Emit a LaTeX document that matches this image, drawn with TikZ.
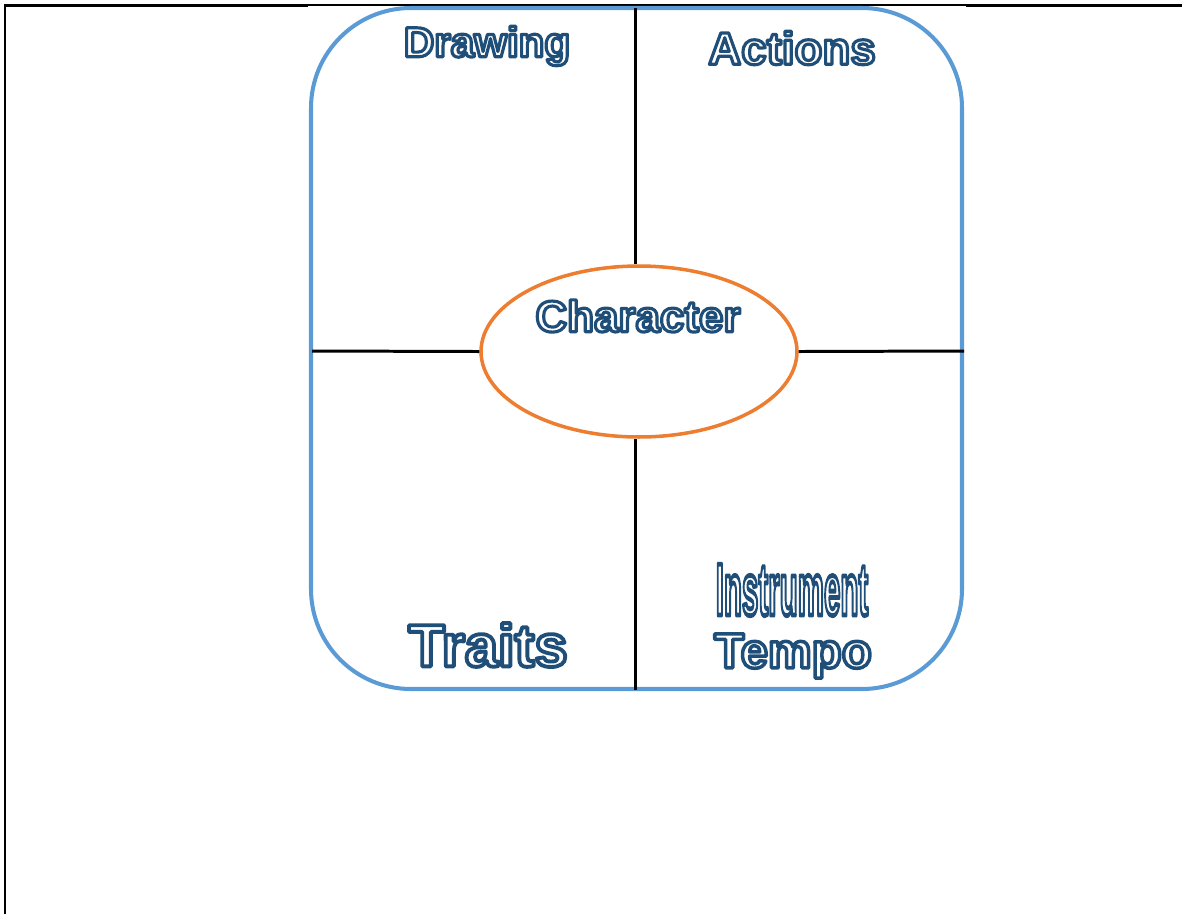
\documentclass[tikz,border=0pt]{standalone}
\usepackage{fontspec}
\setmainfont{Liberation Sans}
\usetikzlibrary{shapes.geometric}
\definecolor{boxblue}{HTML}{5B9BD5}
\definecolor{ovalorange}{HTML}{ED7D31}
\definecolor{wordblue}{HTML}{1F4E79}
% white letters with a dark blue rim (pdf text render mode 2)
\newcommand\rimmed[2][1.8]{\special{pdf:literal 0.122 0.306 0.475 RG #1 w 1 j 2 Tr}#2\special{pdf:literal 0 Tr}}

\begin{document}
\begin{tikzpicture}[x=0.02cm, y=-0.02cm,
       word/.style = {text=white, inner sep=0pt,
                      font=\bfseries\fontsize{#1}{#1}\selectfont},
    divider/.style = {draw=black, line width=1.7pt},
       oval/.style = {ellipse, draw=ovalorange, line width=2pt,
                      minimum width=6.32cm, minimum height=3.42cm}
                        ]
    \useasboundingbox (0,0) rectangle (1182,914);

    % Page frame (left and top only)
    \draw[line width=1.7pt] (5,914) -- (5,5) -- (308,5);
    \draw[line width=0.6pt] (308,5) -- (966,5);
    \draw[line width=1.7pt] (966,5) -- (1182,5);

    % The rounded box
    \draw[boxblue, line width=2.3pt, rounded corners=2cm] (311,8) rectangle (962,689);

    % Ends of the dividers on the box
    \coordinate (n) at (635,8);
    \coordinate (s) at (635,690);
    \coordinate (w) at (312,351);
    \coordinate (e) at (964,351);

    % Centre oval
    \node (char) at (639,351.5) [oval] {};

    \path[divider] (n) -- (n |- char.north);
    \path[divider] (s) -- (s |- char.south);
    \path[divider] (w) -- (char.west);
    \path[divider] (e) -- (char.east);

    % Labels
    \node (drawing) at (487,46) [word=24] {\rimmed{Drawing}};
    \node (actions) at (792,48) [word=26] {\rimmed{Actions}};
    \node (charlabel) at (638,316) [word=25] {\rimmed{Character}};
    \node (traits) at (488,645) [word=34] {\rimmed[2.2]{Traits}};
    \node (instrument) at (792,590) [word=20] {\scalebox{0.84}[2.1]{\rimmed[1.3]{Instrument}}};
    \node (tempo) at (793,656) [word=28] {\rimmed[2]{Tempo}};

\end{tikzpicture}
\end{document}
